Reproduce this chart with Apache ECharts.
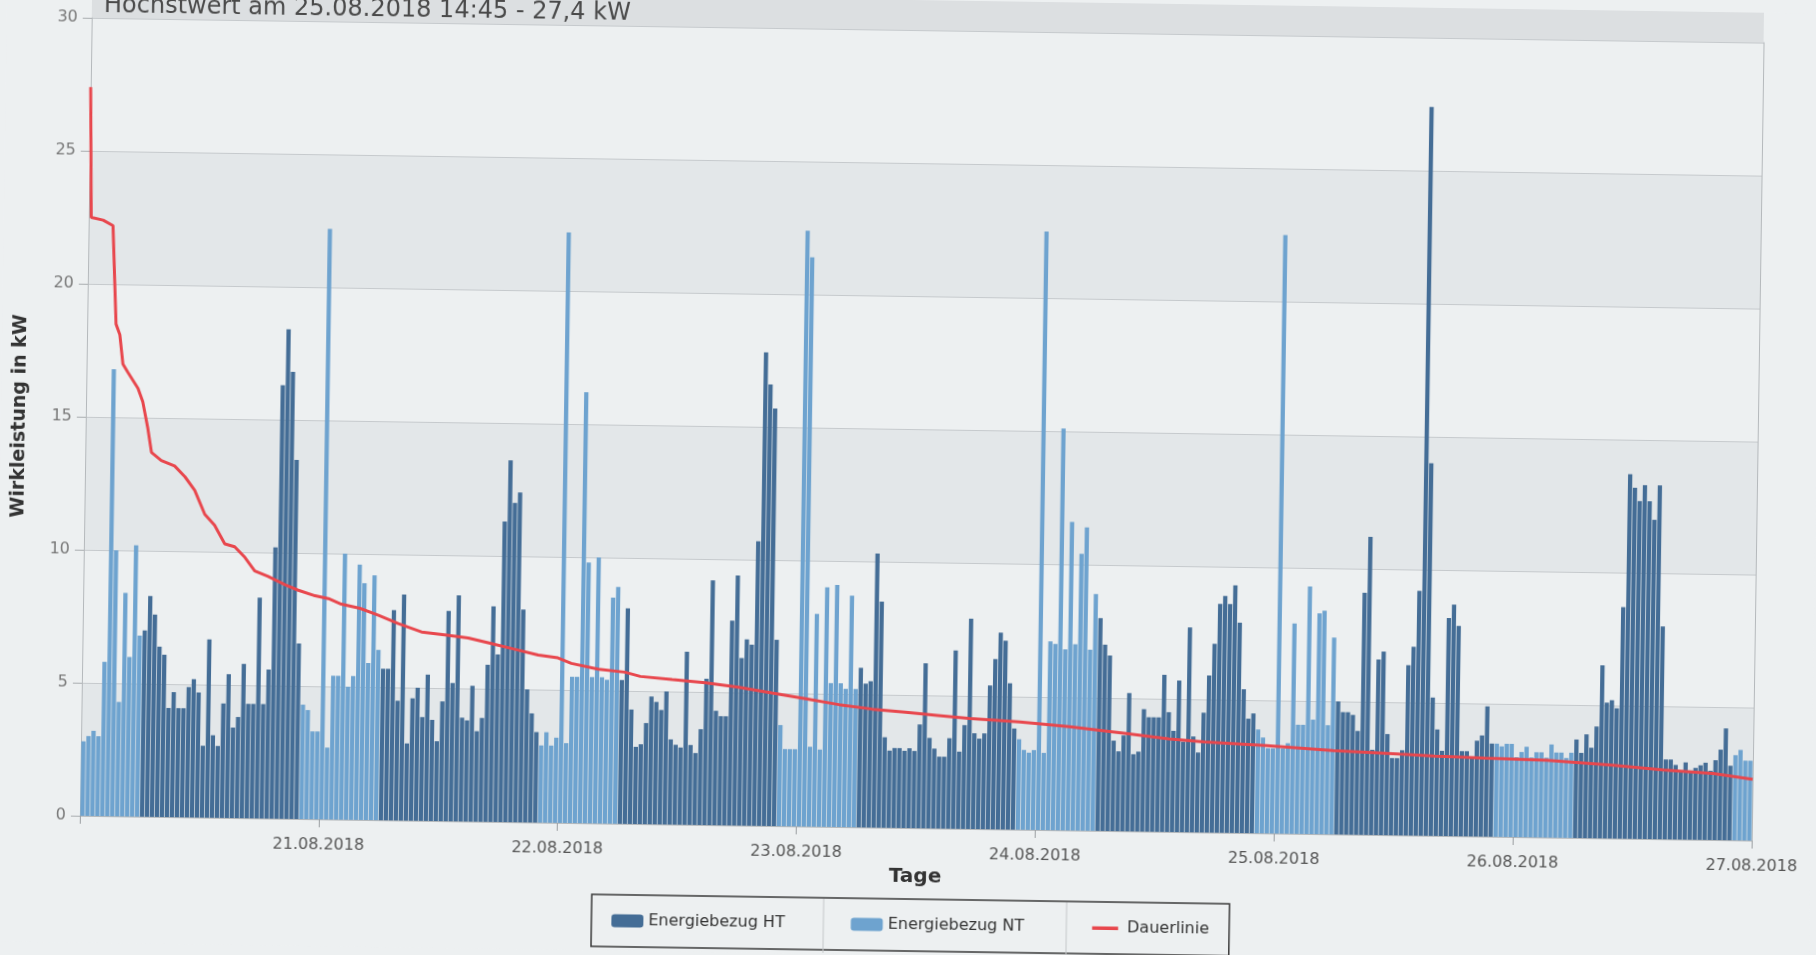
<!DOCTYPE html>
<html>
<head>
<meta charset="utf-8">
<title>Wirkleistung</title>
<script src="https://cdn.jsdelivr.net/npm/echarts@6/dist/echarts.min.js"></script>
<style>
html, body { margin:0; padding:0; background:#edf0f1; overflow:hidden; }
/* the scan is slightly tilted */
#chart { width:1816px; height:955px; transform: rotate(0.85deg); }
</style>
</head>
<body>
<div id="chart"></div>
<script>
// Tage an den Tagesgrenzen
var dayLabels = ['20.08.2018','21.08.2018','22.08.2018','23.08.2018','24.08.2018','25.08.2018','26.08.2018','27.08.2018'];
var slotsPerDay = 48;   // 30-Minuten-Werte
var ntFrom = 22, ntTo = 6; // Niedertarif 22:00 - 06:00

// Wirkleistung in kW, ein Wert je halbe Stunde
var leistung = [
  // 20.08.
  2.8,3.0,3.2,3.0,5.8,16.8,10.0,4.3,8.4,6.0,10.2,6.8, 7.0,8.3,7.6,6.4,6.1,4.1,4.7,4.1,4.1,4.9,5.2,4.7,
  2.7,6.7,3.1,2.7,4.3,5.4,3.4,3.8,5.8,4.3,4.3,8.3, 4.3,5.6,10.2,16.3,18.4,16.8,13.5,6.6,4.3,4.1,3.3,3.3,
  // 21.08.
  22.2,2.7,5.4,5.4,10.0,5.0,5.4,9.6,8.9,5.9,9.2,6.4, 5.7,5.7,7.9,4.5,8.5,2.9,4.6,5.0,3.9,5.5,3.8,3.0,
  4.5,7.9,5.2,8.5,3.9,3.8,5.1,3.4,3.9,5.9,8.1,6.3, 11.3,13.6,12.0,12.4,8.0,5.0,4.1,3.4,2.9,3.4,2.9,3.2,
  // 22.08.
  22.2,3.0,5.5,5.5,16.2,9.8,5.5,10.0,5.5,5.4,8.5,8.9, 5.4,8.1,4.3,2.9,3.0,3.8,4.8,4.6,4.3,5.0,3.2,3.0,
  2.9,6.5,3.0,2.7,3.6,5.5,9.2,4.3,4.1,4.1,7.7,9.4, 6.3,7.0,6.8,10.7,17.8,16.6,15.7,7.0,3.8,2.9,2.9,2.9,
  // 23.08.
  22.4,21.4,3.0,8.0,2.9,9.0,5.4,9.1,5.4,5.2,8.7,5.2, 6.0,5.4,5.5,10.3,8.5,3.4,2.9,3.0,3.0,2.9,3.0,2.9,
  3.9,6.2,3.4,3.0,2.7,2.7,3.4,6.7,2.9,3.9,7.9,3.6, 3.4,3.6,5.4,6.4,7.4,7.1,5.5,3.8,3.4,3.0,2.9,3.0,
  // 24.08.
  22.5,2.9,7.1,7.0,15.1,6.8,11.6,7.0,10.4,11.4,6.8,8.9, 8.0,7.0,6.6,3.4,3.0,3.6,5.2,2.9,3.0,4.6,4.3,4.3,
  4.3,5.9,4.5,3.8,5.7,3.4,7.7,3.6,3.0,4.5,5.9,7.1, 8.6,8.9,8.6,9.3,7.9,5.4,4.3,4.5,3.9,3.6,3.2,3.2,
  // 25.08.
  22.5,3.2,3.4,7.9,4.1,4.1,9.3,4.3,8.3,8.4,4.1,7.4, 5.0,4.6,4.6,4.5,3.9,9.1,11.2,3.2,6.6,6.9,3.8,2.9,
  2.9,3.2,6.4,7.1,9.2,27.4,14.0,5.2,4.0,3.2,8.2,8.7, 7.9,3.2,3.2,3.0,3.6,3.8,4.9,3.5,3.5,3.4,3.5,3.5,
  // 26.08.
  3.0,3.2,3.4,3.0,3.2,3.2,3.0,3.5,3.2,3.2,3.0,3.2, 3.7,3.2,3.9,3.4,4.2,6.5,5.1,5.2,4.9,8.7,13.7,13.2,
  12.7,13.3,12.7,12.0,13.3,8.0,3.0,3.0,2.8,2.6,2.9,2.6, 2.7,2.8,2.9,2.6,3.0,3.4,4.2,2.8,3.2,3.4,3.0,3.0
];

// Dauerlinie: Position (in Halbstunden) und Wert in kW
var dauerPos = [0,0.5,2.9,4.9,5.8,6.6,7.3,8.3,10.4,11.4,12.5,13.3,15.3,18.0,20.1,22.1,24.2,26.2,28.3,30.3,
  32.4,34.4,37.1,40.5,43.2,46.6,49.3,51.9,55.7,59.4,63.4,68.1,72.8,77.5,82.2,86.9,91.6,95.6,98.3,103.7,
  109.1,112.2,118.6,125.3,132.0,138.7,145.5,152.2,158.9,165.6,172,178.4,188.5,198.5,208.6,218.6,225.7,
  238.2,251.6,265.0,272,282,294.5,307.9,318.0,328.0,336];
var dauerWert = [27.4,22.5,22.4,22.2,18.5,18.1,17.0,16.7,16.1,15.6,14.6,13.7,13.4,13.2,12.8,12.3,11.4,11.0,10.3,10.2,
  9.8,9.3,9.1,8.8,8.6,8.4,8.3,8.1,7.95,7.7,7.4,7.1,7.0,6.9,6.7,6.5,6.3,6.2,6.0,5.8,
  5.7,5.55,5.45,5.35,5.2,5.0,4.8,4.6,4.45,4.35,4.25,4.15,4.05,3.9,3.7,3.5,3.4,
  3.3,3.15,3.05,3.0,2.95,2.9,2.75,2.6,2.5,2.3];

var font = "'DejaVu Sans', sans-serif";

// Kategorien + Aufteilung HT / NT
var cats = [], htData = [], ntData = [];
for (var i = 0; i < leistung.length; i++) {
  var d = Math.floor(i / slotsPerDay);
  var s = i % slotsPerDay;
  var h = Math.floor(s / 2), m = (s % 2) ? '30' : '00';
  cats.push(dayLabels[d].substr(0, 6) + ' ' + (h < 10 ? '0' + h : h) + ':' + m);
  var nt = (h >= ntFrom || h < ntTo);
  htData.push(nt ? '-' : leistung[i]);
  ntData.push(nt ? leistung[i] : '-');
}
var dauerData = dauerPos.map(function (p, k) { return [p, dauerWert[k]]; });

var myChart = echarts.init(document.getElementById('chart'));
var option = {
  animation: false,
  backgroundColor: '#edf0f1',
  title: {
    text: 'Höchstwert am 25.08.2018 14:45 - 27,4 kW',
    left: 92, top: 1,
    textStyle: { fontFamily: font, fontSize: 24, fontWeight: 'normal', color: '#4a4a4a' }
  },
  graphic: [{
    type: 'rect', z: 0,
    shape: { x: 85, y: -40, width: 1672, height: 70 },
    style: { fill: '#dcdfe1' }
  }, {
    // Trennstriche in der Legende
    type: 'line', z: 10,
    shape: { x1: 830, y1: 900, x2: 830, y2: 954 },
    style: { stroke: '#c4c7c9', lineWidth: 1 }
  }, {
    type: 'line', z: 10,
    shape: { x1: 1073, y1: 900, x2: 1073, y2: 954 },
    style: { stroke: '#c4c7c9', lineWidth: 1 }
  }],
  legend: {
    left: 598, top: 899,
    padding: [18, 20],
    itemGap: 66,
    itemWidth: 32, itemHeight: 13,
    borderColor: '#3a3a3a', borderWidth: 1.5,
    textStyle: { fontFamily: font, fontSize: 16, color: '#333' },
    data: [
      { name: 'Energiebezug HT', icon: 'roundRect' },
      { name: 'Energiebezug NT', icon: 'roundRect' },
      { name: 'Dauerlinie', icon: 'path://M0,0L0.1,0L0,0.1Z M2,5L28,5L28,8.5L2,8.5Z M32,13L31.9,13L32,12.9Z' }
    ]
  },
  grid: { left: 85, right: 59, top: 30, bottom: 127 },
  xAxis: [{
    type: 'category',
    data: cats,
    boundaryGap: true,
    show: false
  }, {
    type: 'value',
    min: 0, max: leistung.length, interval: slotsPerDay,
    position: 'bottom',
    name: 'Tage',
    nameLocation: 'middle',
    nameGap: 32,
    nameTextStyle: { fontFamily: font, fontSize: 20, fontWeight: 'bold', color: '#333' },
    axisLine: { show: true, lineStyle: { color: '#b5b9bc' } },
    axisTick: { show: true, length: 8, lineStyle: { color: '#9a9ea1' } },
    axisLabel: {
      fontFamily: font, fontSize: 16, color: '#555', margin: 18,
      showMinLabel: true, showMaxLabel: true,
      formatter: function (v) { return v === 0 ? '' : dayLabels[v / slotsPerDay]; }
    },
    splitLine: { show: false }
  }],
  yAxis: [{
    type: 'value',
    min: 0, max: 30, interval: 5,
    name: 'Wirkleistung in kW',
    nameLocation: 'middle',
    nameGap: 56,
    nameTextStyle: { fontFamily: font, fontSize: 19, fontWeight: 'bold', color: '#333' },
    axisLine: { show: true, lineStyle: { color: '#b5b9bc' } },
    axisTick: { show: true, length: 9, lineStyle: { color: '#a9adb0' } },
    axisLabel: { fontFamily: font, fontSize: 16, color: '#777', margin: 14 },
    splitLine: { lineStyle: { color: '#c6cacd' } },
    splitArea: { show: true, areaStyle: { color: ['#e3e7e9', '#edf0f1'] } }
  }, {
    type: 'value',
    min: 0, max: 30, interval: 5,
    position: 'right',
    axisLine: { show: true, lineStyle: { color: '#b5b9bc' } },
    axisTick: { show: false },
    axisLabel: { show: false },
    splitLine: { show: false }
  }],
  series: [{
    name: 'Energiebezug HT',
    type: 'bar',
    stack: 'p',
    xAxisIndex: 0, yAxisIndex: 0,
    barCategoryGap: '14%',
    itemStyle: { color: '#446d96' },
    data: htData
  }, {
    name: 'Energiebezug NT',
    type: 'bar',
    stack: 'p',
    xAxisIndex: 0, yAxisIndex: 0,
    barCategoryGap: '14%',
    itemStyle: { color: '#6ea3cf' },
    data: ntData
  }, {
    name: 'Dauerlinie',
    type: 'line',
    xAxisIndex: 1, yAxisIndex: 0,
    showSymbol: false,
    symbol: 'none',
    z: 5,
    lineStyle: { color: '#e8474d', width: 3 },
    itemStyle: { color: '#e8474d' },
    data: dauerData
  }]
};
myChart.setOption(option);
</script>
</body>
</html>
